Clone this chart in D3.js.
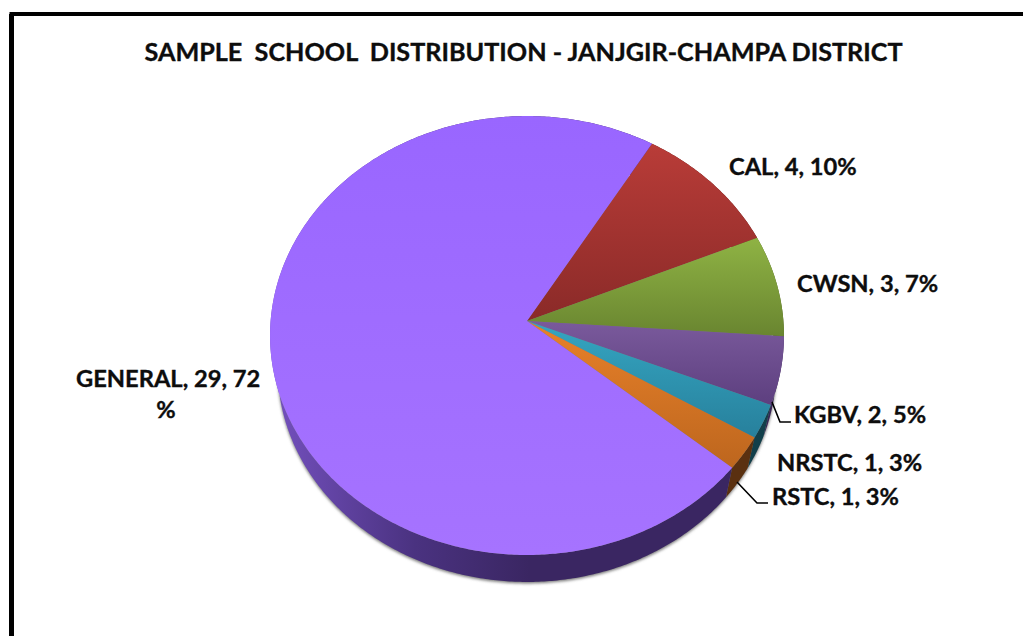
<!DOCTYPE html>
<html>
<head>
<meta charset="utf-8">
<script src="https://cdn.jsdelivr.net/npm/d3@7"></script>
<style>
  html, body { margin: 0; padding: 0; background: #fff; }
  svg { display: block; }
  text { font-family: Lato, "Open Sans", sans-serif; font-weight: 700; fill: #0d0d0d; stroke: #0d0d0d; stroke-width: 0.35px; }
</style>
</head>
<body>
<svg id="chart" width="1023" height="636"></svg>
<script>
// chart values
const categories = ['CAL', 'CWSN', 'KGBV', 'NRSTC', 'RSTC', 'GENERAL'];
const schools = [4, 3, 2, 1, 1, 29];
const percents = ['10%', '7%', '5%', '3%', '3%', '72 %'];
const titleText = 'SAMPLE  SCHOOL  DISTRIBUTION - JANJGIR-CHAMPA DISTRICT';

const faceTop = ['#b93c38', '#8fb344', '#7a5a9c', '#35a6c2', '#e8812a', '#9966ff'];
const faceBottom = ['#8a2a28', '#698530', '#5d3f7f', '#27809c', '#bd661e', '#a673ff'];
const sideColors = ['#5c1a18', '#4a5c22', '#3a2656', '#123f4a', '#5a3010', 'url(#sideGeneral)'];

const width = 1023, height = 636;
const svg = d3.select('#chart');
const defs = svg.append('defs');

// perspective tilt of the pie: the apex sits above the middle of the ellipse
const cx = 527, cy = 321, B = 256.4, A = 218.5, k = 0.0661;
const depth = 34, shrink = 0.97;
const startAngle = 31 * Math.PI / 180;

function project(angle, extrude) {
  const u = Math.sin(angle), v = -Math.cos(angle);
  const w = 1 - k * v;
  const s = extrude ? shrink : 1;
  return [cx + s * B * u / w, cy + (extrude ? depth : 0) + s * A * v / w];
}

const pie = d3.pie().sort(null)
  .startAngle(startAngle)
  .endAngle(startAngle + 2 * Math.PI);
const arcs = pie(schools);
const line = d3.line();

function rim(a0, a1, extrude) {
  const n = Math.max(2, Math.ceil((a1 - a0) / 0.01));
  return d3.range(n + 1).map(i => project(a0 + (a1 - a0) * i / n, extrude));
}

// gradients
arcs.forEach((d, i) => {
  const g = defs.append('linearGradient').attr('id', 'face' + i)
    .attr('x1', 0).attr('y1', 0).attr('x2', 0).attr('y2', 1);
  g.append('stop').attr('offset', 0).attr('stop-color', faceTop[i]);
  g.append('stop').attr('offset', 1).attr('stop-color', faceBottom[i]);
});
const sideGrad = defs.append('linearGradient').attr('id', 'sideGeneral')
  .attr('gradientUnits', 'userSpaceOnUse')
  .attr('x1', 275).attr('y1', 0).attr('x2', 530).attr('y2', 0);
sideGrad.append('stop').attr('offset', 0).attr('stop-color', '#7350bd');
sideGrad.append('stop').attr('offset', 0.55).attr('stop-color', '#4a3280');
sideGrad.append('stop').attr('offset', 1).attr('stop-color', '#3a2662');

defs.append('filter').attr('id', 'soft')
  .attr('x', '-5%').attr('y', '-5%').attr('width', '110%').attr('height', '110%')
  .append('feGaussianBlur').attr('stdDeviation', 1.6);

// frame, open on the right and at the bottom
svg.append('path')
  .attr('d', `M11.5,${height} V14 H${width}`)
  .attr('fill', 'none').attr('stroke', '#000')
  .attr('stroke-width', 4);
svg.append('rect').attr('x', 9).attr('y', 14).attr('width', 5).attr('height', height - 14).attr('fill', '#000');

svg.append('text')
  .attr('x', 523.5).attr('y', 61)
  .attr('text-anchor', 'middle')
  .attr('font-size', 25.2)
  .attr('xml:space', 'preserve')
  .style('white-space', 'pre')
  .text(titleText);

// soft shadow under the disc
svg.append('path')
  .attr('d', line(rim(0, 2 * Math.PI, true)) + 'Z')
  .attr('transform', 'translate(0,1.5)')
  .attr('fill', '#777')
  .attr('filter', 'url(#soft)');

const pieG = svg.append('g');

// side wall
pieG.selectAll('path.side').data(arcs).join('path')
  .attr('class', 'side')
  .attr('d', d => line(rim(d.startAngle, d.endAngle, false).concat(rim(d.startAngle, d.endAngle, true).reverse())) + 'Z')
  .attr('fill', (d, i) => sideColors[i]);

// top face
pieG.selectAll('path.face').data(arcs).join('path')
  .attr('class', 'face')
  .attr('d', d => line([[cx, cy]].concat(rim(d.startAngle, d.endAngle, false))) + 'Z')
  .attr('fill', (d, i) => `url(#face${i})`);

// leader lines
const leaders = svg.append('g').attr('fill', 'none').attr('stroke', '#000').attr('stroke-width', 1.6);
leaders.append('path').attr('d', 'M772,402 L780,422 H791');
leaders.append('path').attr('d', 'M737,482 L757,503 H768');

const labelSize = 23.7;
function label(i, x, y) {
  svg.append('text').attr('x', x).attr('y', y).attr('font-size', labelSize)
    .text(`${categories[i]}, ${schools[i]}, ${percents[i]}`);
}
label(0, 729, 175);
label(1, 797, 292);
label(2, 794, 423);
label(3, 777, 471);
label(4, 772, 505);

// GENERAL wraps onto a second line in the original
const genParts = percents[5].split(' ');
svg.append('text').attr('x', 76).attr('y', 387).attr('font-size', labelSize)
  .text(`${categories[5]}, ${schools[5]}, ${genParts[0]}`);
svg.append('text').attr('x', 166).attr('y', 418).attr('font-size', labelSize)
  .attr('text-anchor', 'middle').text(genParts[1]);
</script>
</body>
</html>
